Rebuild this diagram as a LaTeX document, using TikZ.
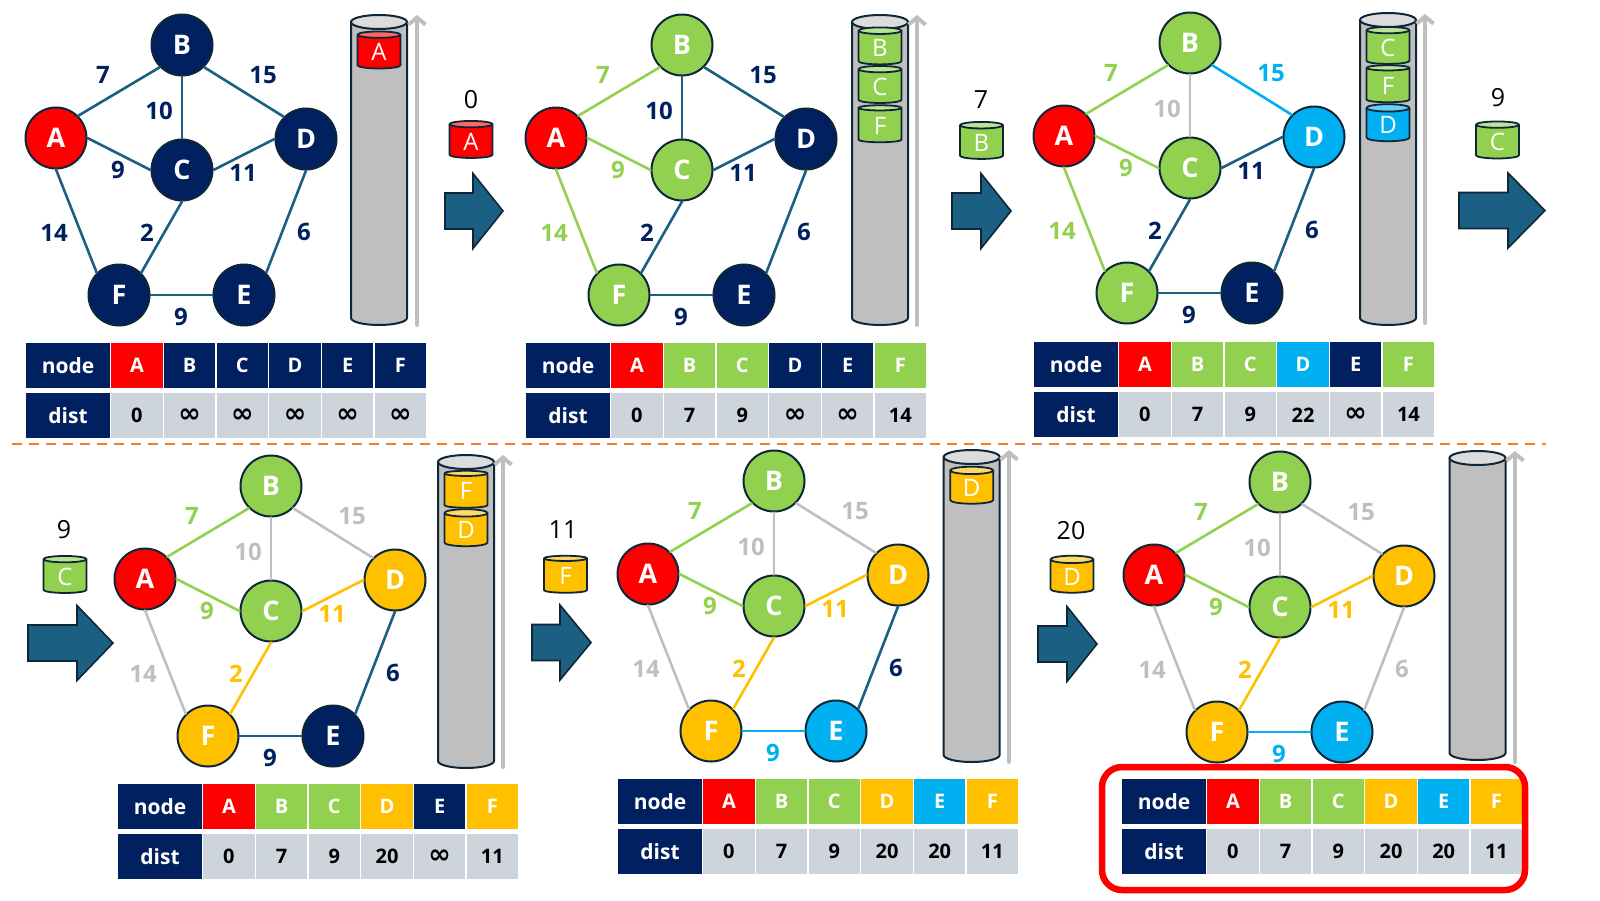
\documentclass[tikz,border=0pt]{standalone}
\usepackage{fontspec}
\setmainfont{Open Sans}
\newfontfamily\symfont{DejaVu Sans}
\usetikzlibrary{arrows.meta,shapes.geometric}

\definecolor{navy}{HTML}{002060}
\definecolor{edgeblue}{HTML}{1B5F82}
\definecolor{outline}{HTML}{0E2638}
\definecolor{vred}{HTML}{FF0000}
\definecolor{vgreen}{HTML}{92D050}
\definecolor{vgold}{HTML}{FFC000}
\definecolor{vblue}{HTML}{00B0F0}
\definecolor{vgrey}{HTML}{BFBFBF}
\definecolor{cellgrey}{HTML}{CED4DB}
\definecolor{dashorange}{HTML}{ED7D31}

\newcommand{\nodist}{{\symfont\fontsize{27}{27}\selectfont ∞}}

\tikzset{
  vert/.style={circle, draw=outline, line width=2pt, minimum size=61pt, inner sep=0pt,
    text=white, font=\fontsize{27}{27}\selectfont\bfseries},
  ln/.style={line width=2.6pt},
  wt/.style={inner sep=0pt, font=\fontsize{24}{24}\selectfont\bfseries},
  ln d/.style={draw=edgeblue}, wt d/.style={text=navy},
  ln g/.style={draw=vgreen},   wt g/.style={text=vgreen},
  ln y/.style={draw=vgrey},    wt y/.style={text=vgrey},
  ln o/.style={draw=vgold},    wt o/.style={text=vgold},
  ln b/.style={draw=vblue},    wt b/.style={text=vblue},
  qbody/.style={fill=vgrey, draw=outline, line width=2pt},
  qtop/.style={fill=vgrey!55!white, draw=outline, line width=2pt},
  tok/.style={cylinder, shape border rotate=90, aspect=0.42, draw=outline, line width=1.8pt,
    minimum width=43pt, minimum height=37pt, inner sep=0pt, cylinder uses custom fill,
    cylinder body fill=#1, cylinder end fill=#1!60!white, text=white,
    font=\fontsize{24}{24}\selectfont},
  num/.style={inner sep=0pt, font=\fontsize{25}{25}\selectfont},
  uparrow/.style={draw=vgrey, line width=4pt, -{Straight Barb[length=7pt,width=17pt]}},
  bigarrow/.style={fill=edgeblue, draw=outline, line width=1.6pt, line join=miter},
  hcell/.style={fill=navy, text=white, minimum width=84pt, minimum height=45pt, inner sep=0pt,
    font=\fontsize{21}{21}\selectfont\bfseries},
  cell/.style={minimum width=51.5pt, minimum height=45pt, inner sep=0pt,
    font=\fontsize{20}{20}\selectfont\bfseries},
}

% graph of one step: prefix, shift, vertex colours, edges u/anchor/v/anchor/weight/colour key
\newcommand{\dgraph}[4]{%
  \begin{scope}[shift={#2}]
    \foreach \n/\x/\y in {A/56/138,B/182/45,C/182/170,D/306/139,E/244/295,F/119/295}
      \coordinate (#1at\n) at (\x,\y);
    \foreach \n/\x/\y in {AB/103/75,AC/118/170,BC/159/111,BD/263/75,CD/243/173,
                          AF/54/233,CF/147/233,DE/304/232,FE/181/317}
      \coordinate (#1lab\n) at (\x,\y);
    \foreach \n/\c in {#3}
      \node[vert, fill=\c] (#1\n) at (#1at\n) {\n};
    \foreach \u/\a/\v/\b/\w/\k in {#4} {
      \draw[ln, ln \k] (#1\u.\a) -- (#1\v.\b);
      \node[wt, wt \k] (#1w\u\v) at (#1lab\u\v) {\w};
    }
  \end{scope}
}

% queue column: centre x, top and bottom ellipse centres
\newcommand{\queuecyl}[3]{%
  \filldraw[qbody] (#1-28,#2) -- (#1-28,#3)
    arc[start angle=180, end angle=0, x radius=28, y radius=7] -- (#1+28,#2) -- cycle;
  \filldraw[qtop] (#1,#2) ellipse[x radius=28, y radius=7];
}

% distance table: prefix, top left corner, cell colours, distances
\newcommand{\dtable}[4]{%
  \begin{scope}[shift={#2}]
    \node[hcell] (#1nh) at (42,22.5) {node};
    \node[hcell] (#1dh) at (42,72.8) {dist};
    \foreach \n/\c [count=\i] in {#3}
      \node[cell, fill=\c, text=white] (#1n\n) at (58.2+52.7*\i,22.5) {\n};
    \foreach \d [count=\i] in {#4}
      \node[cell, fill=cellgrey] (#1d\i) at (58.2+52.7*\i,72.8) {\d};
  \end{scope}
}

% block arrow: left x, middle y, length, head length
\newcommand{\fatarrow}[4]{%
  \filldraw[bigarrow] (#1,#2-18) -- (#1+#3-#4,#2-18) -- (#1+#3-#4,#2-37.5) -- (#1+#3,#2)
    -- (#1+#3-#4,#2+37.5) -- (#1+#3-#4,#2+18) -- (#1,#2+18) -- cycle;
}

\begin{document}
\begin{tikzpicture}[x=1pt, y=-1pt, line cap=round, line join=round]
  \useasboundingbox (0,0) rectangle (1600,900);

  % step 1
  \dgraph{p1}{(0,0)}{A/vred,B/navy,C/navy,D/navy,E/navy,F/navy}
    {A/45/B/225/7/d,A/0/C/180/9/d,B/270/C/90/10/d,B/315/D/135/15/d,C/0/D/180/11/d,
     A/270/F/135/14/d,C/270/F/45/2/d,D/270/E/45/6/d,F/0/E/180/9/d}
  \queuecyl{379}{22}{318}
  \node[tok=vred] (p1qA) at (379,52) {A};
  \draw[uparrow] (417,325) -- (417,15);
  \node[num] (p1out) at (471,100) {0};
  \node[tok=vred] (p1pop) at (471,141.5) {A};
  \fatarrow{445}{211}{58}{30}
  \dtable{p1}{(26,343)}{A/vred,B/navy,C/navy,D/navy,E/navy,F/navy}
    {0,\nodist,\nodist,\nodist,\nodist,\nodist}

  % step 2
  \dgraph{p2}{(500,0)}{A/vred,B/vgreen,C/vgreen,D/navy,E/navy,F/vgreen}
    {A/45/B/225/7/g,A/0/C/180/9/g,B/270/C/90/10/d,B/315/D/135/15/d,C/0/D/180/11/d,
     A/270/F/135/14/g,C/270/F/45/2/d,D/270/E/45/6/d,F/0/E/180/9/d}
  \queuecyl{880}{22}{318}
  \foreach \n/\y in {B/48,C/86.5,F/125.5}
    \node[tok=vgreen] (p2q\n) at (880,\y) {\n};
  \draw[uparrow] (917,325) -- (917,15);
  \node[num] (p2out) at (981,100) {7};
  \node[tok=vgreen] (p2pop) at (981.5,142.5) {B};
  \fatarrow{952}{211}{59}{30}
  \dtable{p2}{(526,343)}{A/vred,B/vgreen,C/vgreen,D/navy,E/navy,F/vgreen}
    {0,7,9,\nodist,\nodist,14}

  % step 3
  \dgraph{p3}{(1008,-2)}{A/vred,B/vgreen,C/vgreen,D/vblue,E/navy,F/vgreen}
    {A/45/B/225/7/g,A/0/C/180/9/g,B/270/C/90/10/y,B/315/D/135/15/b,C/0/D/180/11/d,
     A/270/F/135/14/g,C/270/F/45/2/d,D/270/E/45/6/d,F/0/E/180/9/d}
  \queuecyl{1388}{20}{318}
  \foreach \n/\y/\c in {C/47.5/vgreen,F/85.5/vgreen,D/125/vblue}
    \node[tok=\c] (p3q\n) at (1388,\y) {\n};
  \draw[uparrow] (1425,323) -- (1425,14);
  \node[num] (p3out) at (1498,98) {9};
  \node[tok=vgreen] (p3pop) at (1497.5,142) {C};
  \fatarrow{1459}{210.5}{86}{37}
  \dtable{p3}{(1034,342)}{A/vred,B/vgreen,C/vgreen,D/vblue,E/navy,F/vgreen}
    {0,7,9,22,\nodist,14}

  % separator
  \draw[dashorange, line width=2.5pt, line cap=butt, dash pattern=on 10pt off 7pt]
    (12,444) -- (1546,444);

  % step 4
  \node[num] (p4in) at (64,530) {9};
  \node[tok=vgreen] (p4push) at (65,576.5) {C};
  \fatarrow{28}{643}{85}{36}
  \dgraph{p4}{(89,441)}{A/vred,B/vgreen,C/vgreen,D/vgold,E/navy,F/vgold}
    {A/45/B/225/7/g,A/0/C/180/9/g,B/270/C/90/10/y,B/315/D/135/15/y,C/0/D/180/11/o,
     A/270/F/135/14/y,C/270/F/45/2/o,D/270/E/45/6/d,F/0/E/180/9/d}
  \queuecyl{466}{462}{761}
  \foreach \n/\y in {F/491,D/530}
    \node[tok=vgold] (p4q\n) at (466,\y) {\n};
  \draw[uparrow] (503,767) -- (503,455);
  \dtable{p4}{(118,784)}{A/vred,B/vgreen,C/vgreen,D/vgold,E/navy,F/vgold}
    {0,7,9,20,\nodist,11}

  % step 5
  \node[num] (p5in) at (563,530) {11};
  \node[tok=vgold] (p5push) at (565.5,576) {F};
  \fatarrow{532}{642.5}{59}{31}
  \dgraph{p5}{(592,436)}{A/vred,B/vgreen,C/vgreen,D/vgold,E/vblue,F/vgold}
    {A/45/B/225/7/g,A/0/C/180/9/g,B/270/C/90/10/y,B/315/D/135/15/y,C/0/D/180/11/o,
     A/270/F/135/14/y,C/270/F/45/2/o,D/270/E/45/6/d,F/0/E/180/9/b}
  \queuecyl{971.7}{457}{755}
  \node[tok=vgold] (p5qD) at (971.7,487.5) {D};
  \draw[uparrow] (1009,762) -- (1009,450);
  \dtable{p5}{(618,779)}{A/vred,B/vgreen,C/vgreen,D/vgold,E/vblue,F/vgold}
    {0,7,9,20,20,11}

  % step 6
  \node[num] (p6in) at (1071,531) {20};
  \node[tok=vgold] (p6push) at (1072,576.5) {D};
  \fatarrow{1038}{644}{59}{30}
  \dgraph{p6}{(1098,437)}{A/vred,B/vgreen,C/vgreen,D/vgold,E/vblue,F/vgold}
    {A/45/B/225/7/g,A/0/C/180/9/g,B/270/C/90/10/y,B/315/D/135/15/y,C/0/D/180/11/o,
     A/270/F/135/14/y,C/270/F/45/2/o,D/270/E/45/6/y,F/0/E/180/9/b}
  \queuecyl{1477.5}{458}{753}
  \draw[uparrow] (1515,762) -- (1515,451);
  \dtable{p6}{(1122,779)}{A/vred,B/vgreen,C/vgreen,D/vgold,E/vblue,F/vgold}
    {0,7,9,20,20,11}
  \draw[vred, line width=6.5pt, rounded corners=20pt] (1102,767) rectangle (1525,890);
\end{tikzpicture}
\end{document}
